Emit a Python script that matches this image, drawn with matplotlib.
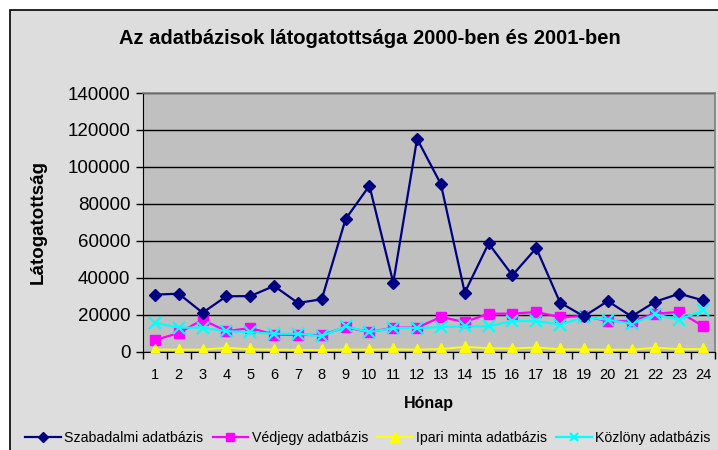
import numpy as np
import matplotlib.pyplot as plt
from matplotlib.patches import Rectangle

plt.rcParams['font.family'] = ['Liberation Sans', 'DejaVu Sans']

# havi adatok, 2000-2001 (24 honap)
months = list(range(1, 25))
szabadalmi = [30800, 31300, 21000, 29900, 30000, 35500, 26300, 28300, 71700, 89800, 37300, 115200,
              90600, 31900, 58500, 41300, 56000, 26500, 19000, 27300, 19000, 27000, 31300, 27700]
vedjegy = [6200, 10000, 17200, 11000, 12700, 9200, 9000, 8900, 13200, 10500, 12900, 12900,
           18700, 15900, 20500, 20500, 21400, 18600, 19200, 16500, 16500, 20500, 21400, 13700]
ipari = [1000, 1000, 1000, 2000, 1200, 1000, 900, 800, 1100, 1000, 1200, 1000,
         1300, 2500, 1800, 1600, 2200, 1200, 1100, 1000, 1000, 2000, 1300, 1300]
kozlony = [15600, 12900, 12900, 11000, 10500, 9600, 9600, 8300, 13600, 10500, 12700, 12700,
           13200, 13600, 13600, 16500, 16500, 14500, 18600, 17200, 15000, 20100, 17200, 22300]
yticks = [0, 20000, 40000, 60000, 80000, 100000, 120000, 140000]

fig = plt.figure(figsize=(7.18, 4.5), dpi=100)
fig.patch.set_facecolor('white')
# chart area frame
fig.patches.append(Rectangle((10/718, -0.05), 1.0, 1 - 10/450 + 0.05, transform=fig.transFigure,
                             facecolor='#dddddd', edgecolor='black', linewidth=1.2, zorder=-10))

ax = fig.add_axes([143/718, 1 - 351.5/450, 572/718, 258.5/450])
ax.set_facecolor('#c0c0c0')

ax.plot(months, szabadalmi, '-', color='#000080', marker='D', markersize=6.5, linewidth=1.6,
        label='Szabadalmi adatbázis', zorder=5)
ax.plot(months, vedjegy, '-', color='#ff00ff', marker='s', markersize=7.5, linewidth=1.6,
        label='Védjegy adatbázis', zorder=3)
ax.plot(months, ipari, '-', color='#ffff00', marker='^', markersize=8.5, linewidth=1.4,
        label='Ipari minta adatbázis', zorder=3)
ax.plot(months, kozlony, '-', color='#00ffff', marker='x', markersize=8, markeredgewidth=1.6,
        linewidth=1.6, label='Közlöny adatbázis', zorder=4)

ax.set_ylim(0, 140000)
ax.set_xlim(0.5, 24.5)
ax.set_yticks(yticks)
ax.set_yticklabels([str(v) for v in yticks], fontsize=13.5)
ax.yaxis.grid(True, color='black', linewidth=1.0)
ax.set_axisbelow(True)

# category ticks between months, labels centred
ax.set_xticks(np.arange(0.5, 25, 1))
ax.set_xticklabels([])
ax.set_xticks(months, minor=True)
ax.set_xticklabels([str(m) for m in months], minor=True, fontsize=10.5)
ax.tick_params(axis='x', which='major', direction='out', length=5, width=1, color='black')
ax.tick_params(axis='x', which='minor', length=0, pad=12)
ax.tick_params(axis='y', direction='out', length=5, width=1, pad=4)

for s in ['top', 'right']:
    ax.spines[s].set_color('#808080')
    ax.spines[s].set_linewidth(1.2)
ax.spines['left'].set_color('black')
ax.spines['bottom'].set_color('black')

ax.set_xlabel('Hónap', fontsize=11.5, fontweight='bold', labelpad=10)
ax.set_ylabel('Látogatottság', fontsize=13.5, fontweight='bold')
ax.yaxis.set_label_coords((47 - 143) / 572, 0.5)
fig.text(370/718, 1 - 38/450, 'Az adatbázisok látogatottsága 2000-ben és 2001-ben',
         ha='center', va='center', fontsize=14.5, fontweight='bold')

fig.legend(loc='center', bbox_to_anchor=(368/718, 1 - 438/450), ncol=4, frameon=False,
           fontsize=10.2, handlelength=2.5, handletextpad=0.25, columnspacing=0.65,
           markerscale=0.8)

plt.savefig('out.png', dpi=100)
